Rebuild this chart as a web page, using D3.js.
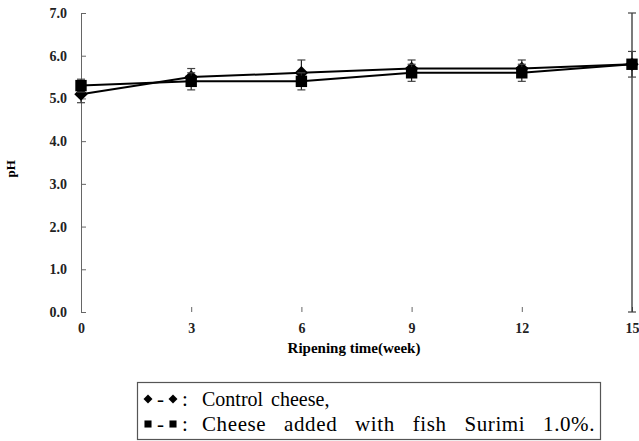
<!DOCTYPE html>
<html>
<head>
<meta charset="utf-8">
<script src="https://cdn.jsdelivr.net/npm/d3@7"></script>
<style>
  body { margin: 0; background: #fff; }
  svg { display: block; }
  .serif { font-family: "Liberation Serif", "Times New Roman", Times, "DejaVu Serif", serif; }
  .axis text { font-family: "Liberation Serif", "Times New Roman", Times, "DejaVu Serif", serif; font-weight: bold; font-size: 14px; fill: #222; }
</style>
</head>
<body>
<svg width="639" height="441"></svg>
<script>
const weeks = [0, 3, 6, 9, 12, 15];
const yTicks = [0, 1, 2, 3, 4, 5, 6, 7];
const controlPH = [5.1, 5.5, 5.6, 5.7, 5.7, 5.8];
const controlErr = [0.2, 0.2, 0.3, 0.2, 0.2, 6.0];
const surimiPH = [5.3, 5.4, 5.4, 5.6, 5.6, 5.8];
const surimiErr = [0.15, 0.2, 0.2, 0.2, 0.2, 0.3];
const legendLabels = ["Control cheese,", "Cheese added with fish Surimi 1.0%."];

const margin = {top: 13, left: 81, right: 8, bottom: 129};
const svg = d3.select("svg"),
      width = +svg.attr("width") - margin.left - margin.right,
      height = +svg.attr("height") - margin.top - margin.bottom;

const x = d3.scaleLinear().domain([0, 15]).range([margin.left, margin.left + 551]);
const y = d3.scaleLinear().domain([0, 7]).range([margin.top + height, margin.top]);

// y axis
const yAxis = d3.axisLeft(y).tickValues(yTicks).tickFormat(d3.format(".1f")).tickSize(-5).tickPadding(14);
svg.append("g")
   .attr("class", "axis")
   .attr("transform", "translate(" + x(0) + ",0)")
   .call(function(g) {
     g.call(yAxis);
     g.select(".domain").attr("stroke", "#666");
     g.selectAll(".tick line").attr("stroke", "#666");
   });

// x axis (no baseline, inward ticks)
const xAxis = d3.axisBottom(x).tickValues(weeks).tickSize(-5).tickPadding(11);
svg.append("g")
   .attr("class", "axis")
   .attr("transform", "translate(0," + y(0) + ")")
   .call(function(g) {
     g.call(xAxis);
     g.select(".domain").remove();
     g.selectAll(".tick line").attr("stroke", "#666");
     g.selectAll(".tick text").attr("font-size", 15);
   });

svg.append("text")
   .attr("class", "serif")
   .attr("x", 354).attr("y", 353)
   .attr("text-anchor", "middle")
   .attr("font-weight", "bold").attr("font-size", 15)
   .text("Ripening time(week)");

svg.append("text")
   .attr("class", "serif")
   .attr("transform", "translate(15," + y(3.35) + ") rotate(-90)")
   .attr("text-anchor", "middle")
   .attr("font-weight", "bold").attr("font-size", 13)
   .text("pH");

// diamond = square turned 45 degrees
function marker(size) {
  return d3.symbol().type(d3.symbolSquare).size(size)();
}

function drawSeries(vals, errs, kind, size) {
  const pts = weeks.map(function(w, i) { return {w: w, v: vals[i], e: errs[i]}; });
  const g = svg.append("g");
  g.selectAll("line.err").data(pts).enter().append("line")
   .attr("x1", d => x(d.w)).attr("x2", d => x(d.w))
   .attr("y1", d => y(Math.max(0, d.v - d.e))).attr("y2", d => y(Math.min(7, d.v + d.e)))
   .attr("stroke", "#222").attr("stroke-width", 1.2);
  g.selectAll("line.cap").data(pts.flatMap(d => [Math.max(0, d.v - d.e), Math.min(7, d.v + d.e)].map(c => ({w: d.w, c: c}))))
   .enter().append("line")
   .attr("x1", d => x(d.w) - 4).attr("x2", d => x(d.w) + 4)
   .attr("y1", d => y(d.c)).attr("y2", d => y(d.c))
   .attr("stroke", "#444").attr("stroke-width", 1.2);
  g.append("path").datum(pts)
   .attr("fill", "none").attr("stroke", "#000").attr("stroke-width", 2)
   .attr("d", d3.line().x(d => x(d.w)).y(d => y(d.v)));
  g.selectAll("path.mk").data(pts).enter().append("path")
   .attr("transform", d => "translate(" + x(d.w) + "," + y(d.v) + ")" + (kind === "diamond" ? " rotate(45)" : ""))
   .attr("d", marker(size))
   .attr("fill", "#000");
}

drawSeries(controlPH, controlErr, "diamond", 90);
drawSeries(surimiPH, surimiErr, "square", 130);

// legend box
svg.append("rect")
   .attr("x", 137.5).attr("y", 382.5).attr("width", 463).attr("height", 57)
   .attr("fill", "none").attr("stroke", "#555").attr("stroke-width", 1.2);

const legendKinds = ["diamond", "square"];
// second row is spread out in the original
const rowFont = [20, 21], rowWordSpace = [3, 12], rowLetterSpace = [0, 0.6];
const lg = svg.append("g");
legendLabels.forEach(function(lbl, i) {
  const base = 406 + i * 25;
  const cy = base - 7;
  const kind = legendKinds[i];
  [148, 173].forEach(function(sx) {
    lg.append("path")
      .attr("transform", "translate(" + sx + "," + cy + ")" + (kind === "diamond" ? " rotate(45)" : ""))
      .attr("d", marker(kind === "diamond" ? 40 : 50))
      .attr("fill", "#000");
  });
  lg.append("text").attr("class", "serif").attr("x", 157).attr("y", base)
    .attr("font-size", 21)
    .text("-");
  lg.append("text").attr("class", "serif").attr("x", 182).attr("y", base)
    .attr("font-size", 21)
    .text(":");
  lg.append("text").attr("class", "serif").attr("x", 202).attr("y", base)
    .attr("font-size", rowFont[i])
    .attr("word-spacing", rowWordSpace[i])
    .attr("letter-spacing", rowLetterSpace[i])
    .text(lbl);
});
</script>
</body>
</html>
